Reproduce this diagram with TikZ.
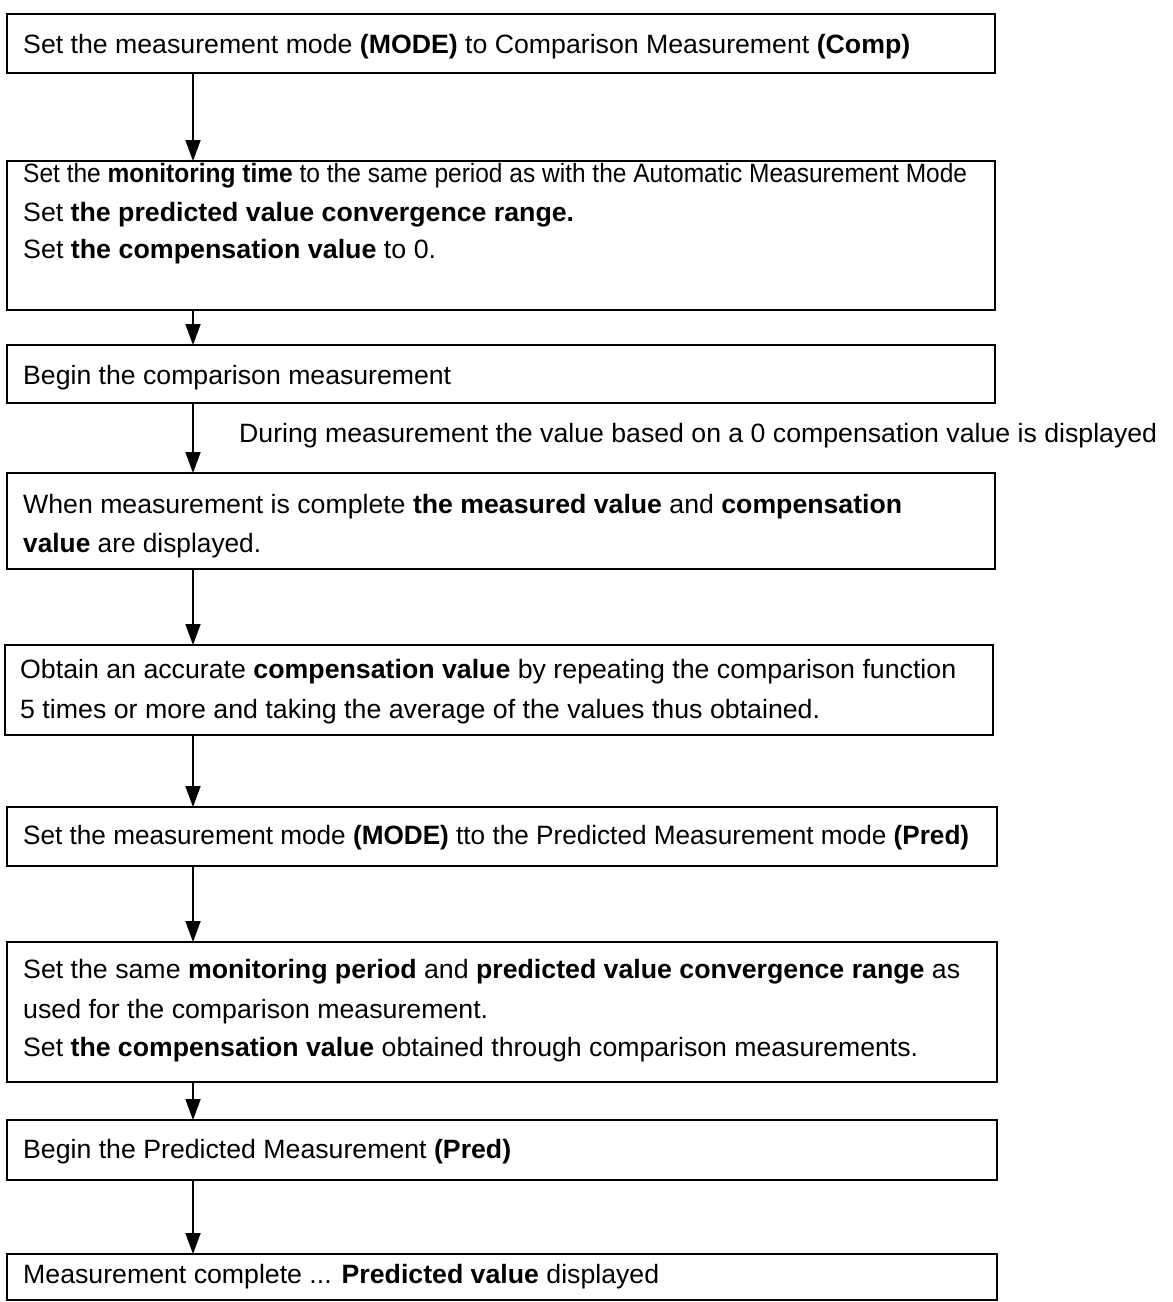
\documentclass[tikz,border=0pt]{standalone}
\usepackage{fontspec}
\setmainfont{Liberation Sans}
\usetikzlibrary{arrows.meta}
\newsavebox\fitbox
\newcommand\fitw[2]{\sbox\fitbox{#2}\pgfmathsetmacro\fitr{#1/\wd\fitbox}\scalebox{\fitr}[1]{\usebox\fitbox}}
\tikzset{
  box/.style={draw, line width=2pt, inner sep=0pt, outer sep=0pt, anchor=north west, rectangle},
  txt/.style={anchor=base west, inner sep=0pt, font=\fontsize{26.5}{32}\selectfont},
  arr/.style={line width=1.8pt, -{Triangle[length=21pt,width=15pt]}},
}
\begin{document}
\begin{tikzpicture}[x=1pt,y=-1pt]
\useasboundingbox (0,0) rectangle (1173,1302);
\coordinate (ax) at (193,0);
% boxes
\node[box, minimum width=988pt, minimum height=59pt] (b1) at (7,14) {};
\node[box, minimum width=988pt, minimum height=149pt] (b2) at (7,161) {};
\node[box, minimum width=988pt, minimum height=58pt] (b3) at (7,345) {};
\node[box, minimum width=988pt, minimum height=96pt] (b4) at (7,473) {};
\node[box, minimum width=988pt, minimum height=90pt] (b5) at (5,645) {};
\node[box, minimum width=990pt, minimum height=59pt] (b6) at (7,807) {};
\node[box, minimum width=990pt, minimum height=140pt] (b7) at (7,942) {};
\node[box, minimum width=990pt, minimum height=60pt] (b8) at (7,1120) {};
\node[box, minimum width=990pt, minimum height=46pt] (b9) at (7,1254) {};
% texts
\node[txt] (t1) at (23,53) {\fitw{887}{Set the measurement mode \textbf{(MODE)} to Comparison Measurement \textbf{(Comp)}}};
\node[txt] (t2a) at (23,182) {\fitw{944}{Set the \textbf{monitoring time} to the same period as with the Automatic Measurement Mode}};
\node[txt] (t2b) at (23,221) {\fitw{551}{Set \textbf{the predicted value convergence range.}}};
\node[txt] (t2c) at (23,258) {\fitw{413}{Set \textbf{the compensation value} to 0.}};
\node[txt] (t3) at (23,384) {\fitw{428}{Begin the comparison measurement}};
\node[txt] (lab) at (239,442) {\fitw{918}{During measurement the value based on a 0 compensation value is displayed}};
\node[txt] (t4a) at (23,513) {\fitw{879}{When measurement is complete \textbf{the measured value} and \textbf{compensation}}};
\node[txt] (t4b) at (23,552) {\fitw{238}{\textbf{value} are displayed.}};
\node[txt] (t5a) at (20,678) {\fitw{936}{Obtain an accurate \textbf{compensation value} by repeating the comparison function}};
\node[txt] (t5b) at (20,718) {\fitw{800}{5 times or more and taking the average of the values thus obtained.}};
\node[txt] (t6) at (23,844) {\fitw{946}{Set the measurement mode \textbf{(MODE)} tto the Predicted Measurement mode \textbf{(Pred)}}};
\node[txt] (t7a) at (23,978) {\fitw{937}{Set the same \textbf{monitoring period} and \textbf{predicted value convergence range} as}};
\node[txt] (t7b) at (23,1018) {\fitw{465}{used for the comparison measurement.}};
\node[txt] (t7c) at (23,1056) {\fitw{895}{Set \textbf{the compensation value} obtained through comparison measurements.}};
\node[txt] (t8) at (23,1158) {\fitw{488}{Begin the Predicted Measurement \textbf{(Pred)}}};
\node[txt] (t9) at (23,1283) {\fitw{636}{Measurement complete ... \textbf{Predicted value} displayed}};
% connectors
\draw[arr] (b1.south -| ax) -- (b2.north -| ax);
\draw[arr] (b2.south -| ax) -- (b3.north -| ax);
\draw[arr] (b3.south -| ax) -- (b4.north -| ax);
\draw[arr] (b4.south -| ax) -- (b5.north -| ax);
\draw[arr] (b5.south -| ax) -- (b6.north -| ax);
\draw[arr] (b6.south -| ax) -- (b7.north -| ax);
\draw[arr] (b7.south -| ax) -- (b8.north -| ax);
\draw[arr] (b8.south -| ax) -- (b9.north -| ax);
\end{tikzpicture}
\end{document}
